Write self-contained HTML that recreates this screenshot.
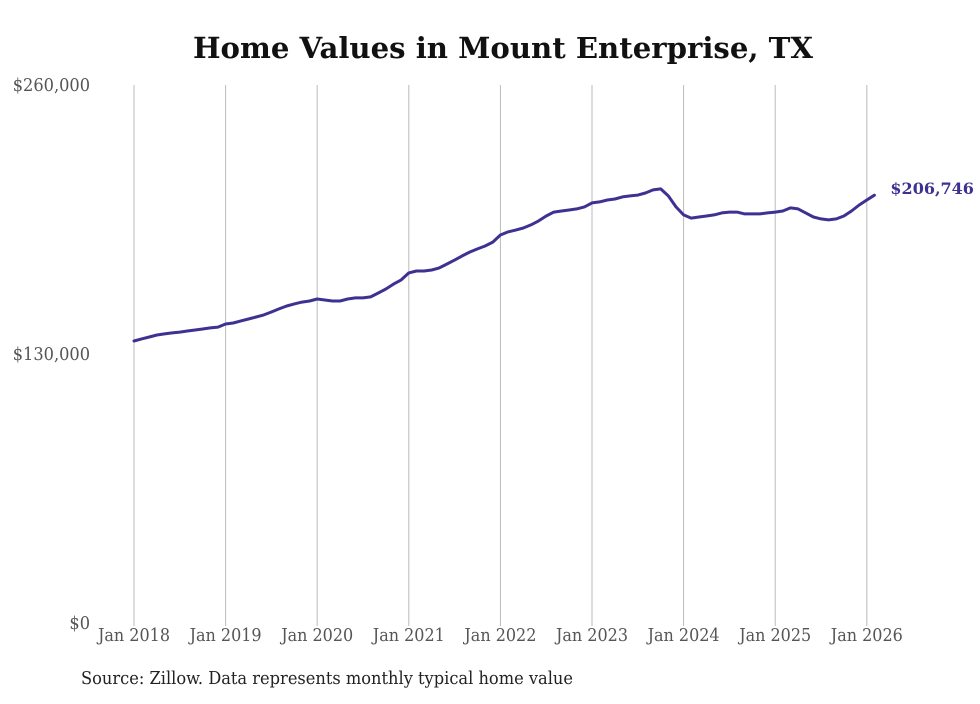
<!DOCTYPE html>
<html><head><meta charset="utf-8"><style>
body{margin:0;background:#fff;}
svg text{font-family:"DejaVu Serif","Liberation Serif",serif;}
svg text.cond{font-family:"DejaVu Serif Condensed","DejaVu Serif","Liberation Serif",serif;font-stretch:condensed;}
</style></head><body>
<svg width="980" height="699" viewBox="0 0 980 699" xmlns="http://www.w3.org/2000/svg">
<rect width="980" height="699" fill="#fff"/>
<text x="503" y="58" text-anchor="middle" font-size="29" font-weight="bold" fill="#111" textLength="620" lengthAdjust="spacingAndGlyphs">Home Values in Mount Enterprise, TX</text>
<g id="grid"></g><g id="yaxis"></g><g id="xaxis"></g><g id="series"></g>
<text class="cond" x="81" y="684" font-size="18" fill="#222" textLength="492" lengthAdjust="spacingAndGlyphs">Source: Zillow. Data represents monthly typical home value</text>
</svg>
<script>
const yTickValues=[0,130000,260000];
const yTickLabels=["$0","$130,000","$260,000"];
const xTickYears=[2018,2019,2020,2021,2022,2023,2024,2025,2026];
const xTickLabels=["Jan 2018","Jan 2019","Jan 2020","Jan 2021","Jan 2022","Jan 2023","Jan 2024","Jan 2025","Jan 2026"];
const startYear=2018;
const values=[
136.3,137.3,138.2,139.2,139.7,140.2,140.6,141.1,141.6,142.1,142.6,143.0,
144.5,145.0,146.0,146.9,147.9,148.9,150.3,151.8,153.2,154.2,155.1,155.6,
156.6,156.1,155.6,155.6,156.6,157.1,157.1,157.6,159.5,161.4,163.8,165.8,
169.2,170.1,170.1,170.6,171.6,173.5,175.4,177.4,179.3,180.8,182.2,184.1,
187.5,189.0,189.9,190.9,192.4,194.3,196.7,198.6,199.1,199.6,200.1,201.1,
203.0,203.5,204.4,204.9,205.9,206.4,206.8,207.8,209.3,209.8,206.4,201.1,
197.2,195.7,196.2,196.7,197.2,198.2,198.6,198.6,197.7,197.7,197.7,198.2,
198.6,199.1,200.6,200.1,198.2,196.2,195.3,194.8,195.3,196.7,199.1,202.0,
204.4,206.746];
const lastLabel="$206,746";
const NS="http://www.w3.org/2000/svg";
const x0=134,pxPerYear=91.6,yBase=623,yTop=85,yMax=260000;
function xScale(monthIndex){return x0+monthIndex*pxPerYear/12;}
function yScale(v){return yBase-(v/yMax)*(yBase-yTop);}
function mk(tag,attrs,parent){const e=document.createElementNS(NS,tag);for(const k in attrs)e.setAttribute(k,attrs[k]);parent.appendChild(e);return e;}
const grid=document.getElementById('grid'),xa=document.getElementById('xaxis'),ya=document.getElementById('yaxis'),ser=document.getElementById('series');
xTickYears.forEach((yr,i)=>{
  const x=xScale((yr-startYear)*12);
  const l=mk('line',{x1:x,x2:x,y1:yTop,y2:yBase+3,stroke:'#bbb','stroke-width':1},grid);
  
  
  const t=mk('text',{x:x,y:641,'text-anchor':'middle','font-size':'18',fill:'#555','class':'cond',textLength:72,lengthAdjust:'spacingAndGlyphs'},xa);
  t.textContent=xTickLabels[i];
  
  
});
yTickValues.forEach((v,i)=>{
  const t=mk('text',{x:90,y:yScale(v)+6,'text-anchor':'end','font-size':'18',fill:'#555','class':'cond'},ya);
  t.textContent=yTickLabels[i];
  
  
});
const pts=values.map((v,i)=>xScale(i).toFixed(1)+','+yScale(v*1000).toFixed(1)).join(' ');
const pl=mk('polyline',{points:pts,fill:'none',stroke:'#3d3192','stroke-width':3,'stroke-linejoin':'round','stroke-linecap':'round'},ser);


const li=values.length-1;
const lt=mk('text',{x:xScale(li)+16,y:yScale(values[li]*1000)-1,'font-size':'16','font-weight':'bold',fill:'#3d3192'},ser);
lt.textContent=lastLabel;


</script>
</body></html>
